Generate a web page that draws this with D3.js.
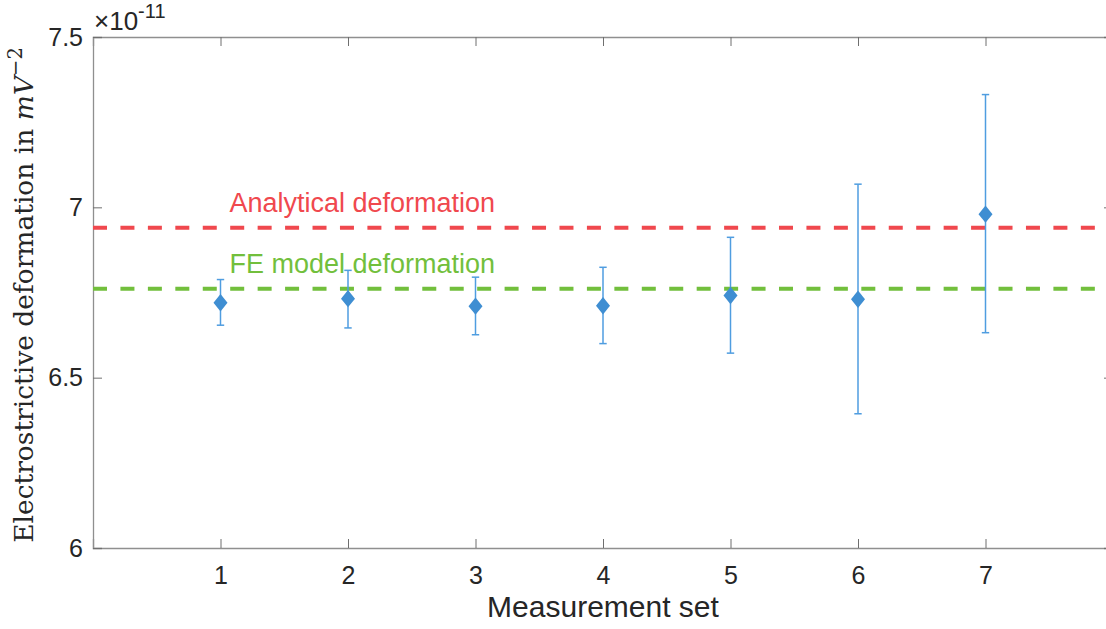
<!DOCTYPE html>
<html>
<head>
<meta charset="utf-8">
<script src="https://cdn.jsdelivr.net/npm/d3@7"></script>
<style>
  html, body { margin: 0; padding: 0; background: #fff; }
  svg { display: block; }
</style>
</head>
<body>
<script>
// Measurement sets and electrostrictive deformation (×1e-11 m/V²)
const sets = [1, 2, 3, 4, 5, 6, 7];
const means = [6.720, 6.732, 6.710, 6.711, 6.741, 6.730, 6.980];
const lower = [6.654, 6.646, 6.626, 6.600, 6.572, 6.394, 6.632];
const upper = [6.788, 6.815, 6.795, 6.824, 6.912, 7.068, 7.331];

// Reference deformations
const refNames = ["Analytical deformation", "FE model deformation"];
const refValues = [6.940, 6.761];
const refColors = ["#f0484e", "#72bf3c"];

const xTicks = [1, 2, 3, 4, 5, 6, 7];
const yTicks = [6, 6.5, 7, 7.5];
const yTickLabels = ["6", "6.5", "7", "7.5"];

const W = 1106, H = 629;
const margin = { left: 93, top: 37, right: -7, bottom: 81 };
const plotW = W - margin.left - margin.right;
const plotH = H - margin.top - margin.bottom;

const svg = d3.select("body").append("svg")
  .attr("width", W).attr("height", H);

const x = d3.scaleLinear().domain([0, 8]).range([margin.left, margin.left + plotW]);
const y = d3.scaleLinear().domain([6, 7.5]).range([margin.top + plotH, margin.top]);

const axisColor = "#8f8f8f";
const tickLen = 9;
const sansFont = "'Liberation Sans', Arial, Helvetica, sans-serif";

// Box axes with inward ticks on all four sides
const axes = svg.append("g");
const bottomAxis = d3.axisBottom(x).tickValues(xTicks).tickSize(-tickLen).tickPadding(18).tickFormat(d3.format("d"));
const topAxis = d3.axisTop(x).tickValues(xTicks).tickSize(-tickLen).tickFormat("");
const leftAxis = d3.axisLeft(y).tickValues(yTicks).tickSize(-tickLen).tickPadding(10)
  .tickFormat((d, i) => yTickLabels[i]);
const rightAxis = d3.axisRight(y).tickValues(yTicks).tickSize(-tickLen).tickFormat("");

axes.append("g").attr("transform", `translate(0,${y(6)})`).call(bottomAxis);
axes.append("g").attr("transform", `translate(0,${y(7.5)})`).call(topAxis);
axes.append("g").attr("transform", `translate(${x(0)},0)`).call(leftAxis);
axes.append("g").attr("transform", `translate(${x(8)},0)`).call(rightAxis);

axes.selectAll(".domain").attr("stroke", axisColor).attr("stroke-width", 1.3);
axes.selectAll(".tick line").attr("stroke", "#6f6f6f").attr("stroke-width", 1);
axes.selectAll(".tick text")
  .attr("fill", "#262626")
  .style("font-family", sansFont)
  .style("font-size", "25px");

// Exponent multiplier above the y axis
const expo = svg.append("text")
  .attr("x", x(0) + 1).attr("y", 30)
  .attr("fill", "#262626")
  .style("font-family", sansFont)
  .style("font-size", "26px");
expo.append("tspan").text("\u00d710");
expo.append("tspan").attr("dy", -12).style("font-size", "20px").text("-11");

// Reference lines with their labels
const refs = svg.append("g");
refValues.forEach((v, i) => {
  refs.append("line")
    .attr("x1", x(0)).attr("x2", x(8))
    .attr("y1", y(v)).attr("y2", y(v))
    .attr("stroke", refColors[i])
    .attr("stroke-width", 4)
    .attr("stroke-dasharray", "14 13.44");
  refs.append("text")
    .attr("x", x(1.07)).attr("y", y(v) - 16)
    .attr("fill", refColors[i])
    .style("font-family", sansFont)
    .style("font-size", "27px")
    .text(refNames[i]);
});

// Error bars and diamond markers
const barColor = "#4f9de0";
const markColor = "#3f8ed2";
const capHalf = 3.7;
const pts = svg.append("g");
sets.forEach((s, i) => {
  const cx = x(s);
  pts.append("line")
    .attr("x1", cx).attr("x2", cx)
    .attr("y1", y(lower[i])).attr("y2", y(upper[i]))
    .attr("stroke", barColor).attr("stroke-width", 1.5);
  [lower[i], upper[i]].forEach(v => {
    pts.append("line")
      .attr("x1", cx - capHalf).attr("x2", cx + capHalf)
      .attr("y1", y(v)).attr("y2", y(v))
      .attr("stroke", barColor).attr("stroke-width", 1.5);
  });
  const cy = y(means[i]);
  pts.append("path")
    .attr("d", `M${cx},${cy - 8.7}L${cx + 7},${cy}L${cx},${cy + 8.7}L${cx - 7},${cy}Z`)
    .attr("fill", markColor);
});

// Axis titles
svg.append("text")
  .attr("x", x(4)).attr("y", 617)
  .attr("text-anchor", "middle")
  .attr("fill", "#262626")
  .style("font-family", sansFont)
  .style("font-size", "30px")
  .text("Measurement set");

const yl = svg.append("text")
  .attr("transform", `translate(33,295) rotate(-90)`)
  .attr("text-anchor", "middle")
  .attr("fill", "#262626")
  .style("font-family", "'DejaVu Serif', 'Liberation Serif', serif")
  .style("font-size", "26.5px");
yl.append("tspan").text("Electrostrictive deformation in ");
yl.append("tspan").style("font-style", "italic").text("mV");
yl.append("tspan").attr("dy", -11).style("font-size", "19.5px").text("\u22122");
</script>
</body>
</html>
